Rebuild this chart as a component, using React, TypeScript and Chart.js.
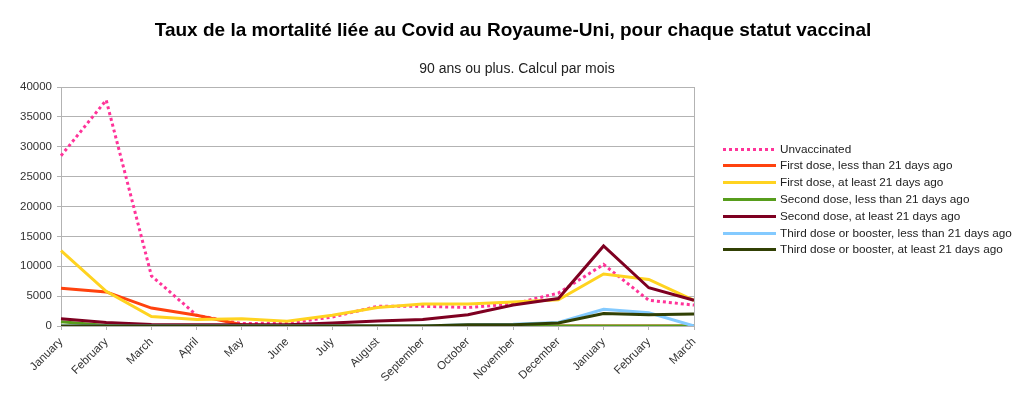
import React, { useEffect, useRef } from "react";
import { Chart, registerables } from "chart.js";

Chart.register(...registerables);

const TITLE = "Taux de la mortalité liée au Covid au Royaume-Uni, pour chaque statut vaccinal";
const SUBTITLE = "90 ans ou plus. Calcul par mois";

const months = [
  "January", "February", "March", "April", "May", "June", "July", "August",
  "September", "October", "November", "December", "January", "February", "March",
];

const seriesNames = [
  "Unvaccinated",
  "First dose, less than 21 days ago",
  "First dose, at least 21 days ago",
  "Second dose, less than 21 days ago",
  "Second dose, at least 21 days ago",
  "Third dose or booster, less than 21 days ago",
  "Third dose or booster, at least 21 days ago",
];

const unvaccinated = [28500, 37800, 8400, 1800, 400, 500, 1500, 3300, 3300, 3100, 3700, 5500, 10300, 4300, 3500];
const firstLess21 = [6300, 5700, 3000, 1800, 200, 0, 0, 0, 0, 0, 0, 0, 0, 0, 0];
const firstAtLeast21 = [12600, 5800, 1600, 1100, 1200, 800, 1800, 3100, 3700, 3700, 4000, 4400, 8700, 7800, 4300];
const secondLess21 = [700, 100, 0, 0, 0, 0, 0, 0, 0, 0, 0, 0, 0, 0, 0];
const secondAtLeast21 = [1200, 600, 250, 200, 200, 200, 500, 850, 1100, 1900, 3500, 4600, 13400, 6400, 4300];
const thirdLess21 = [0, 0, 0, 0, 0, 0, 0, 0, 0, 200, 300, 600, 2800, 2200, 0];
const thirdAtLeast21 = [0, 0, 0, 0, 0, 0, 0, 0, 0, 200, 200, 500, 2100, 1900, 2000];

const yTicks = [0, 5000, 10000, 15000, 20000, 25000, 30000, 35000, 40000];

const colors = ["#ff3399", "#ff420e", "#ffd320", "#579d1c", "#7e0021", "#83caff", "#314004"];

const FONT = "'Liberation Sans', Arial, sans-serif";

export default function App() {
  const ref = useRef<HTMLCanvasElement | null>(null);

  useEffect(() => {
    const canvas = ref.current;
    if (!canvas) return;
    const values = [unvaccinated, firstLess21, firstAtLeast21, secondLess21, secondAtLeast21, thirdLess21, thirdAtLeast21];
    const datasets = values.map((data, i) => ({
      label: seriesNames[i],
      data,
      borderColor: colors[i],
      backgroundColor: colors[i],
      borderWidth: 3,
      borderDash: i === 0 ? [3, 3] : [],
      pointRadius: 0,
      tension: 0,
      fill: false,
      order: 10 - i,
    }));

    const decor = {
      id: "decor",
      afterDraw(chart: any) {
        const ctx = chart.ctx as CanvasRenderingContext2D;
        const area = chart.chartArea;
        ctx.save();
        // right border
        ctx.strokeStyle = "#b3b3b3";
        ctx.lineWidth = 1;
        ctx.beginPath();
        ctx.moveTo(Math.round(area.right) + 0.5, area.top);
        ctx.lineTo(Math.round(area.right) + 0.5, area.bottom);
        ctx.stroke();
        // titles
        ctx.fillStyle = "#000";
        ctx.textAlign = "center";
        ctx.textBaseline = "alphabetic";
        ctx.font = `bold 19px ${FONT}`;
        ctx.fillText(TITLE, 513, 36);
        ctx.fillStyle = "#222";
        ctx.font = `14px ${FONT}`;
        ctx.fillText(SUBTITLE, 517, 73);
        // legend
        ctx.textAlign = "left";
        ctx.textBaseline = "middle";
        ctx.font = `11.75px ${FONT}`;
        const x0 = 723, x1 = 776, tx = 780, y0 = 148.5, dy = 16.8;
        chart.data.datasets.forEach((ds: any, i: number) => {
          const y = Math.round(y0 + i * dy) + 0.5;
          ctx.strokeStyle = ds.borderColor;
          ctx.lineWidth = 3;
          ctx.setLineDash(ds.borderDash || []);
          ctx.beginPath();
          ctx.moveTo(x0, y);
          ctx.lineTo(x1, y);
          ctx.stroke();
          ctx.setLineDash([]);
          ctx.fillStyle = "#222";
          ctx.fillText(ds.label, tx, y);
        });
        ctx.restore();
      },
    };

    const chart = new Chart(canvas, {
      type: "line",
      data: { labels: months, datasets },
      plugins: [decor],
      options: {
        animation: false,
        responsive: false,
        maintainAspectRatio: false,
        layout: { padding: { left: 0, top: 87, right: 330, bottom: 0 } },
        plugins: {
          legend: { display: false },
          title: { display: false },
          tooltip: { enabled: false },
        },
        scales: {
          x: {
            type: "category",
            offset: false,
            afterFit(scale: any) {
              scale.height = 72;
            },
            grid: {
              display: true,
              drawOnChartArea: false,
              drawTicks: true,
              tickLength: 4,
              color: "#b3b3b3",
            },
            border: { color: "#b3b3b3" },
            ticks: {
              autoSkip: false,
              maxRotation: 45,
              minRotation: 45,
              padding: 5,
              color: "#333",
              font: { family: FONT, size: 11.5 },
            },
          },
          y: {
            min: 0,
            max: 40000,
            afterFit(scale: any) {
              scale.width = 61;
            },
            afterBuildTicks(scale: any) {
              scale.ticks = yTicks.map((v) => ({ value: v }));
            },
            grid: {
              color: "#b3b3b3",
              tickLength: 4,
              drawTicks: true,
            },
            border: { color: "#b3b3b3" },
            ticks: {
              padding: 5,
              color: "#333",
              font: { family: FONT, size: 11.5 },
              callback: (v: any) => String(v),
            },
          },
        },
      },
    });
    return () => chart.destroy();
  }, []);

  return (
    <div style={{ position: "absolute", left: 0, top: 0, width: 1024, height: 398, background: "#fff" }}>
      <canvas ref={ref} width={1024} height={398} style={{ display: "block" }} />
    </div>
  );
}
